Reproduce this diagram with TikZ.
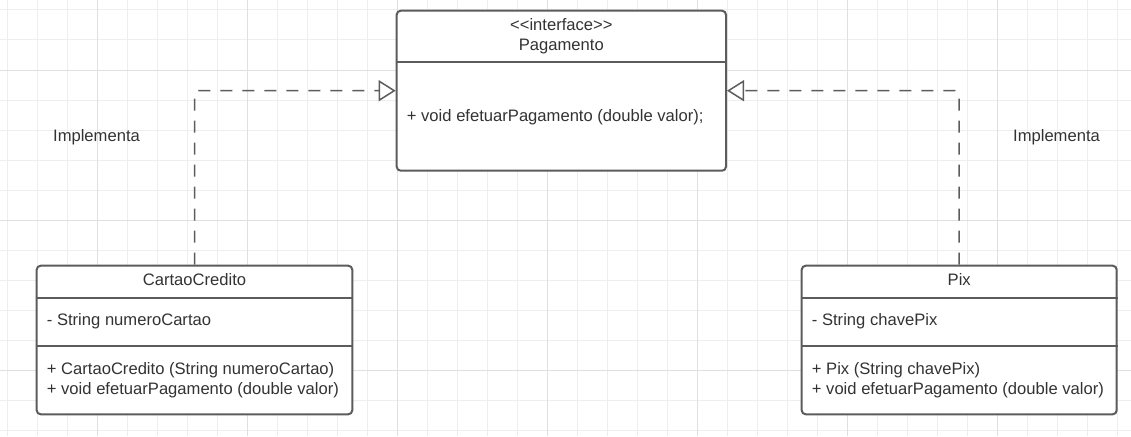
\documentclass[tikz,border=0pt]{standalone}
\usepackage{fontspec}
\setmainfont{Liberation Sans}
\usetikzlibrary{arrows.meta}
\definecolor{cgrid}{RGB}{238,238,238}
\definecolor{cgridmajor}{RGB}{224,224,224}
\definecolor{cline}{RGB}{92,92,92}
\definecolor{ctext}{RGB}{51,51,51}

\begin{document}
\begin{tikzpicture}[x=1pt,y=-1pt,
  every node/.style={font=\fontsize{16.6}{20}\selectfont,text=ctext,inner sep=0},
  classbox/.style={draw=cline,line width=2pt,rounded corners=4,fill=white},
  classline/.style={draw=cline,line width=2pt},
  gridline/.style={draw=cgrid,line width=1pt},
  gridmajor/.style={draw=cgridmajor,line width=1pt},
  realize/.style={draw=cline,line width=1.5pt,dash pattern=on 12pt off 10pt,rounded corners=4,
    -{Triangle[open,length=17pt,width=21pt,fill=white]}}
]
\useasboundingbox[fill=white] (0,0) rectangle (1131,436);

% grid
\foreach \x in {7,37,...,1131} \draw[gridline] (\x,0) -- (\x,436);
\foreach \y in {10,40,...,436} \draw[gridline] (0,\y) -- (1131,\y);
\foreach \x in {97,247,...,1131} \draw[gridmajor] (\x,0) -- (\x,436);
\foreach \y in {70,220,370} \draw[gridmajor] (0,\y) -- (1131,\y);

% interface
\node[classbox,minimum width=329.3pt,minimum height=160pt] (pag) at (561.35,90.7) {};
\draw[classline] (pag.west |- 0,62.3) -- (pag.east |- 0,62.3);
\node[anchor=base] (pagstereo) at (561.35,31) {<\kern0pt<interface>\kern0pt>};
\node[anchor=base] (pagname) at (561.35,51) {Pagamento};
\node[anchor=base west] (pagop) at (406.7,121) {+ void efetuarPagamento (double valor);};

% class CartaoCredito
\node[classbox,minimum width=315.6pt,minimum height=148.6pt] (cartao) at (194.5,340) {};
\draw[classline] (cartao.west |- 0,298.3) -- (cartao.east |- 0,298.3);
\draw[classline] (cartao.west |- 0,345.7) -- (cartao.east |- 0,345.7);
\node[anchor=base] (cartaoname) at (194.5,285.8) {CartaoCredito};
\node[anchor=base west] (cartaoattr) at (46.7,325.8) {- String numeroCartao};
\node[anchor=base west] (cartaoop1) at (46.7,374) {+ CartaoCredito (String numeroCartao)};
\node[anchor=base west] (cartaoop2) at (46.7,394) {+ void efetuarPagamento (double valor)};

% class Pix
\node[classbox,minimum width=315pt,minimum height=148.6pt] (pix) at (959.2,340) {};
\draw[classline] (pix.west |- 0,298.3) -- (pix.east |- 0,298.3);
\draw[classline] (pix.west |- 0,345.7) -- (pix.east |- 0,345.7);
\node[anchor=base] (pixname) at (959.2,285.8) {Pix};
\node[anchor=base west] (pixattr) at (811.7,325.8) {- String chavePix};
\node[anchor=base west] (pixop1) at (811.7,374) {+ Pix (String chavePix)};
\node[anchor=base west] (pixop2) at (811.7,394) {+ void efetuarPagamento (double valor)};

% realizations
\draw[realize] (cartao.north) |- (pag.west);
\draw[realize] (pix.north) |- (pag.east);
\node[anchor=base] (implleft) at (96.5,141.8) {Implementa};
\node[anchor=base] (implright) at (1056.5,141.8) {Implementa};

\end{tikzpicture}
\end{document}
